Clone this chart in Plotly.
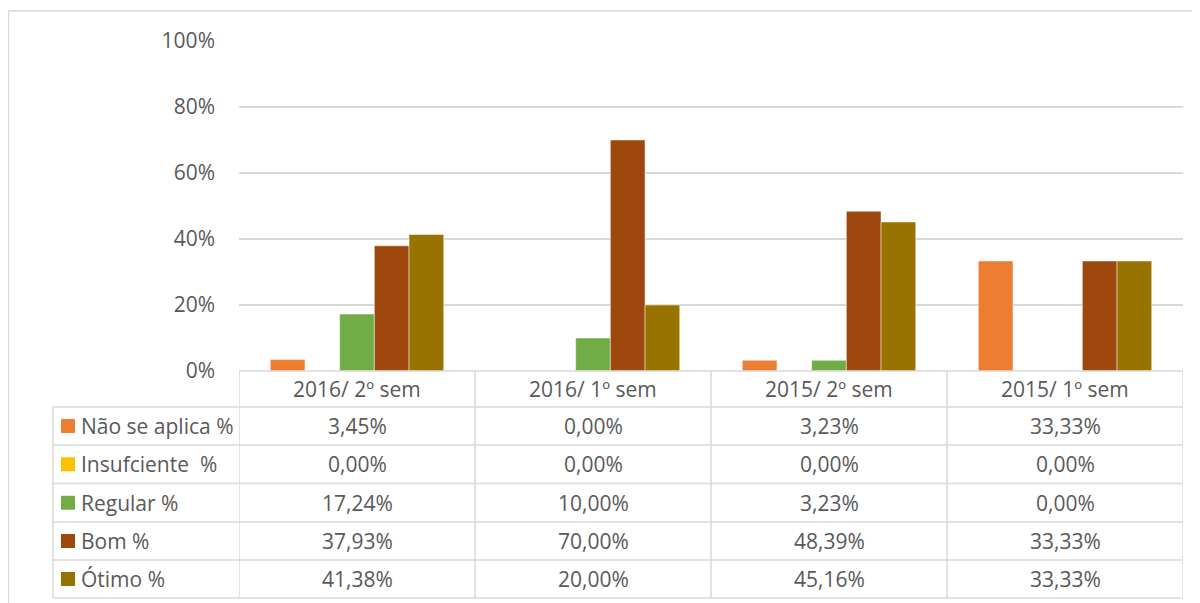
import plotly.graph_objects as go

# ---------------- data ----------------
categories = ["2016/ 2º sem", "2016/ 1º sem", "2015/ 2º sem", "2015/ 1º sem"]
series_names = ["Não se aplica %", "Insufciente\u00a0\u00a0%", "Regular %", "Bom %", "Ótimo %"]
nao_se_aplica = [3.45, 0.00, 3.23, 33.33]
insuficiente = [0.00, 0.00, 0.00, 0.00]
regular = [17.24, 10.00, 3.23, 0.00]
bom = [37.93, 70.00, 48.39, 33.33]
otimo = [41.38, 20.00, 45.16, 33.33]
y_ticks = [0, 0.2, 0.4, 0.6, 0.8, 1.0]

series_values = [nao_se_aplica, insuficiente, regular, bom, otimo]
colors = ["#ED7D31", "#FFC000", "#70AD47", "#9E480E", "#997300"]

OFF = 8  # page body margin
W, H = 1200 - OFF, 603 - OFF
FONT = "Open Sans"
FS = 21
TXT = "#595959"
LINE = "#D9D9D9"


def px(x):
    return (x - OFF) / W


def py(y):
    return 1 - (y - OFF) / H


# layout geometry in page pixels (as seen in the reference)
plot_left, plot_right = 239, 1183
plot_top, plot_bottom = 41, 371
table_left = 53
row_edges = [371, 407, 445, 483.5, 522, 560, 598]

fig = go.Figure()
for name, vals, col in zip(series_names, series_values, colors):
    fig.add_trace(go.Bar(
        x=list(range(len(categories))),
        y=[v / 100 for v in vals],
        name=name,
        marker=dict(color=col, line=dict(color="rgba(255,255,255,0.6)", width=0.8)),
        showlegend=False,
        hoverinfo="skip",
    ))

shapes = []
# outer chart border (top and left edges visible)
shapes.append(dict(type="line", xref="paper", yref="paper",
                   x0=px(8), x1=1, y0=py(11), y1=py(11),
                   line=dict(color=LINE, width=1.5)))
shapes.append(dict(type="line", xref="paper", yref="paper",
                   x0=px(8.5), x1=px(8.5), y0=py(11), y1=0,
                   line=dict(color=LINE, width=1.5)))
# header top (axis line)
shapes.append(dict(type="line", xref="paper", yref="paper",
                   x0=px(plot_left), x1=px(plot_right), y0=py(row_edges[0]), y1=py(row_edges[0]),
                   line=dict(color=LINE, width=1.5)))
# row lines
for ry in row_edges[1:]:
    shapes.append(dict(type="line", xref="paper", yref="paper",
                       x0=px(table_left), x1=px(plot_right), y0=py(ry), y1=py(ry),
                       line=dict(color=LINE, width=1.5)))
# vertical lines at category boundaries
for i in range(len(categories) + 1):
    shapes.append(dict(type="line", xref="x", yref="paper",
                       x0=i - 0.5, x1=i - 0.5, y0=py(row_edges[0]), y1=py(row_edges[-1]),
                       line=dict(color=LINE, width=1.5)))
# left edge of legend column
shapes.append(dict(type="line", xref="paper", yref="paper",
                   x0=px(table_left), x1=px(table_left), y0=py(row_edges[1]), y1=py(row_edges[-1]),
                   line=dict(color=LINE, width=1.5)))

annotations = []
# header category labels
hc = (row_edges[0] + row_edges[1]) / 2
for i, c in enumerate(categories):
    annotations.append(dict(x=i, y=py(hc), xref="x", yref="paper", text=c, showarrow=False,
                            xanchor="center", yanchor="middle",
                            font=dict(family=FONT, size=FS, color=TXT)))

# rows
for r, (name, vals, col) in enumerate(zip(series_names, series_values, colors)):
    top, bot = row_edges[r + 1], row_edges[r + 2]
    cy = (top + bot) / 2
    shapes.append(dict(type="rect", xref="paper", yref="paper",
                       x0=px(61), x1=px(75), y0=py(cy - 7), y1=py(cy + 7),
                       line=dict(width=0), fillcolor=col))
    annotations.append(dict(x=px(79), y=py(cy), xref="paper", yref="paper", text=name,
                            showarrow=False, xanchor="left", yanchor="middle",
                            font=dict(family=FONT, size=FS, color=TXT)))
    for i, v in enumerate(vals):
        annotations.append(dict(x=i, y=py(cy), xref="x", yref="paper",
                                text=f"{v:.2f}".replace(".", ",") + "%",
                                showarrow=False, xanchor="center", yanchor="middle",
                                font=dict(family=FONT, size=FS, color=TXT)))

fig.update_layout(
    width=W, height=H,
    margin=dict(l=0, r=0, t=0, b=0, pad=0, autoexpand=False),
    paper_bgcolor="white", plot_bgcolor="white",
    barmode="group",
    bargap=0.265, bargroupgap=0,
    font=dict(family=FONT, size=FS, color=TXT),
    xaxis=dict(domain=[px(plot_left), px(plot_right)], range=[-0.5, len(categories) - 0.5],
               showticklabels=False, showgrid=False, zeroline=False, showline=False,
               automargin=False, fixedrange=True),
    yaxis=dict(domain=[py(plot_bottom), py(plot_top)], range=[0, 1],
               tickvals=y_ticks, tickformat=".0%",
               showgrid=True, gridcolor=LINE, gridwidth=1.5, zeroline=False, showline=False,
               ticks="", ticklabelstandoff=23, automargin=False,
               tickfont=dict(family=FONT, size=FS, color=TXT), fixedrange=True),
    shapes=shapes,
    annotations=annotations,
)

fig.write_html("out.html")
